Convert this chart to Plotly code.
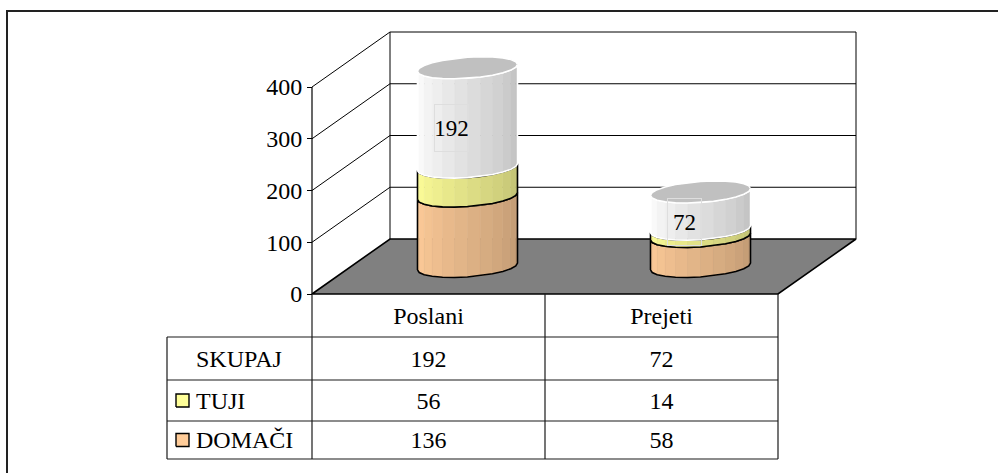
import numpy as np
import plotly.graph_objects as go

# ---- data -----------------------------------------------------------------
categories = ["Poslani", "Prejeti"]
series_names = ["DOMAČI", "TUJI", "SKUPAJ"]
domaci = [136, 58]
tuji = [56, 14]
skupaj = [192, 72]
y_ticks = [0, 100, 200, 300, 400]
table_rows = ["SKUPAJ", "TUJI", "DOMAČI"]

series_values = {"DOMAČI": domaci, "TUJI": tuji, "SKUPAJ": skupaj}
series_rgb = {"DOMAČI": (255, 204, 153), "TUJI": (255, 255, 153), "SKUPAJ": (255, 255, 255)}
series_edge = {"DOMAČI": "black", "TUJI": "black", "SKUPAJ": "white"}
key_visible = {"DOMAČI": True, "TUJI": True, "SKUPAJ": False}

FONT = "Liberation Serif"
FS = 24

# ---- frame geometry -------------------------------------------------------
W, H = 998, 473
X0_PX = 312          # front-left corner of the floor
Y0_PX = 294          # value 0 on the front axis
CAT_PX = 233         # width of one category slot
VAL_PX = 207 / 400   # pixels per unit of value
DEPTH_DX_PX, DEPTH_DY_PX = 78, 55   # offset from front to back plane

DX = DEPTH_DX_PX / CAT_PX     # depth offset in x units
DY = DEPTH_DY_PX / VAL_PX     # depth offset in value units
Y_MAX = y_ticks[-1]
N_CAT = len(categories)

x_range = [-X0_PX / CAT_PX, (W - X0_PX) / CAT_PX]
y_range = [-(H - Y0_PX) / VAL_PX, Y0_PX / VAL_PX]


def proj(x, v, d):
    """Oblique projection of (category x, value v, depth d in 0..1)."""
    return x + d * DX, v + d * DY


fig = go.Figure()


def add_line(xs, ys, color="black", width=1.0):
    fig.add_trace(go.Scatter(x=xs, y=ys, mode="lines", line=dict(color=color, width=width),
                             hoverinfo="skip", showlegend=False))


def add_poly(xs, ys, fill, line_color=None, width=0):
    fig.add_trace(go.Scatter(x=list(xs) + [xs[0]], y=list(ys) + [ys[0]], mode="lines",
                             fill="toself", fillcolor=fill,
                             line=dict(color=line_color or fill, width=width),
                             hoverinfo="skip", showlegend=False))


def add_text(xs, ys, texts, pos="middle center"):
    fig.add_trace(go.Scatter(x=xs, y=ys, mode="text", text=texts, textposition=pos,
                             textfont=dict(family=FONT, size=FS, color="black"),
                             hoverinfo="skip", showlegend=False))


# ---- walls and gridlines --------------------------------------------------
for v in y_ticks[1:]:
    a = proj(0, v, 0); b = proj(0, v, 1); c = proj(N_CAT, v, 1)
    add_line([a[0], b[0], c[0]], [a[1], b[1], c[1]], width=1)
bl0 = proj(0, 0, 1); bl1 = proj(0, Y_MAX, 1)
add_line([bl0[0], bl1[0]], [bl0[1], bl1[1]], width=1)
br0 = proj(N_CAT, 0, 1); br1 = proj(N_CAT, Y_MAX, 1)
add_line([br0[0], br1[0]], [br0[1], br1[1]], width=1)

# floor
floor = [proj(0, 0, 0), proj(N_CAT, 0, 0), proj(N_CAT, 0, 1), proj(0, 0, 1)]
add_poly([p[0] for p in floor], [p[1] for p in floor], "#808080", "black", 1.6)

# front value axis line
add_line([0, 0], [0, Y_MAX], width=1.2)

# ---- cylinders -----------------------------------------------------------
R_X = 47.5 / CAT_PX     # radius across the category axis
R_D = 0.2               # radius in depth
D_C = 0.5               # depth of the cylinder axis
N_SIDES = 24
theta_s = np.arctan2(R_D * DEPTH_DX_PX, R_X * CAT_PX)
thetas_vis = theta_s + np.pi + np.arange(N_SIDES // 2 + 1) * (2 * np.pi / N_SIDES)
thetas_all = theta_s + np.arange(N_SIDES) * (2 * np.pi / N_SIDES)


def ring(cx, v, thetas):
    pts = [proj(cx + R_X * np.cos(t), v, D_C + R_D * np.sin(t)) for t in thetas]
    return [p[0] for p in pts], [p[1] for p in pts]


def shade(rgb, f):
    return "rgb(%d,%d,%d)" % tuple(int(round(c * f)) for c in rgb)


for i, cat in enumerate(categories):
    cx = i + 0.5
    base = 0
    for name in series_names:
        val = series_values[name][i]
        top = base + val
        bx, by = ring(cx, base, thetas_vis)
        tx, ty = ring(cx, top, thetas_vis)
        nf = len(thetas_vis) - 1
        for k in range(nf):
            f = 1.0 - 0.25 * (k / (nf - 1))
            add_poly([bx[k], bx[k + 1], tx[k + 1], tx[k]],
                     [by[k], by[k + 1], ty[k + 1], ty[k]],
                     shade(series_rgb[name], f), width=0.6)
        # silhouette of the segment
        ox = bx + tx[::-1] + [bx[0]]
        oy = by + ty[::-1] + [by[0]]
        add_line(ox, oy, color=series_edge[name], width=1.6)
        base = top
    # top cap
    capx, capy = ring(cx, base, thetas_all)
    add_poly(capx, capy, "#c0c0c0", "white", 1.4)

# data labels for the top series
for i, cat in enumerate(categories):
    base = domaci[i] + tuji[i]
    lx, ly = proj(i + 0.5, base + skupaj[i] / 2, D_C - R_D)
    fig.add_annotation(x=lx, y=ly, text=str(skupaj[i]), showarrow=False,
                       font=dict(family=FONT, size=23, color="black"),
                       width=33, height=46, bordercolor="#dedede", borderwidth=1,
                       borderpad=0)

# ---- data table ---------------------------------------------------------
row_edges_px = [0, 43, 86, 127, 165]
row_edges = [-e / VAL_PX for e in row_edges_px]
label_left = (167 - X0_PX) / CAT_PX
text_left = (196 - X0_PX) / CAT_PX
key_x0, key_x1 = (176 - X0_PX) / CAT_PX, (189 - X0_PX) / CAT_PX
key_half = 6.5 / VAL_PX
TBL = "#1a1a1a"

# horizontal rules
for e in row_edges[1:]:
    add_line([label_left, N_CAT], [e, e], color=TBL, width=1.2)
# vertical rules
for c in range(N_CAT + 1):
    add_line([c, c], [row_edges[0], row_edges[-1]], color=TBL, width=1.2)
add_line([label_left, label_left], [row_edges[1], row_edges[-1]], color=TBL, width=1.2)

row_mid = [(row_edges[r] + row_edges[r + 1]) / 2 for r in range(len(row_edges) - 1)]
text_nudge = -2.0 / VAL_PX

# header row: category names
add_text([c + 0.5 for c in range(N_CAT)], [row_mid[0] + text_nudge] * N_CAT, categories)
for r, name in enumerate(table_rows):
    ym = row_mid[r + 1] + text_nudge
    add_text([c + 0.5 for c in range(N_CAT)], [ym] * N_CAT,
             [str(v) for v in series_values[name]])
    add_text([text_left], [ym], [name], pos="middle right")
    if key_visible[name]:
        kc = row_mid[r + 1]
        add_poly([key_x0, key_x1, key_x1, key_x0],
                 [kc - key_half, kc - key_half, kc + key_half, kc + key_half],
                 "rgb(%d,%d,%d)" % series_rgb[name], "black", 1.4)

# outer chart frame
fig.add_shape(type="rect", xref="paper", yref="paper",
              x0=7 / W, x1=1.02, y0=-0.03, y1=1 - 11 / H,
              line=dict(color="#222222", width=2), fillcolor="rgba(0,0,0,0)", layer="above")

fig.update_layout(
    width=W, height=H, autosize=False,
    margin=dict(l=0, r=0, t=0, b=0),
    paper_bgcolor="white", plot_bgcolor="white",
    showlegend=False, hovermode=False,
    xaxis=dict(range=x_range, visible=False, fixedrange=True),
    yaxis=dict(range=y_range, tickvals=y_ticks, ticks="outside", ticklen=5,
               tickcolor="black", tickwidth=1, showgrid=False, zeroline=False,
               showline=False, anchor="free", position=X0_PX / W, fixedrange=True,
               tickfont=dict(family=FONT, size=FS, color="black")),
)

fig.write_html("out.html")
